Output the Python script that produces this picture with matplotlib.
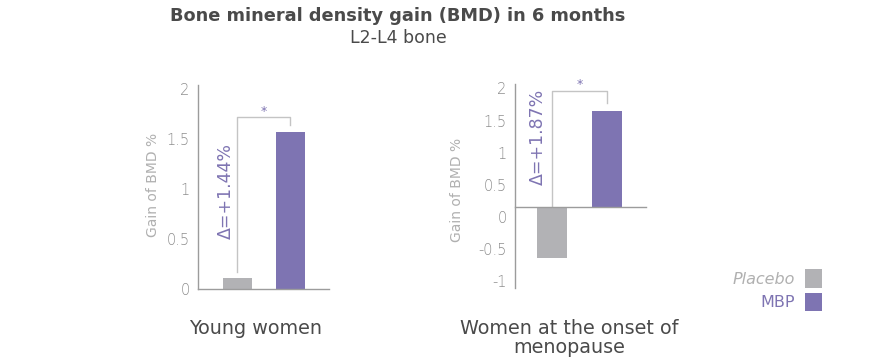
import matplotlib
matplotlib.use("Agg")
import matplotlib.pyplot as plt
from matplotlib.transforms import ScaledTranslation
from matplotlib.patches import Patch

plt.rcParams['font.family'] = ['DejaVu Sans']

# ---- data ----
groups = ["Young women", "Women at the onset of\nmenopause"]
series = ["Placebo", "MBP"]
young_values = [0.11, 1.57]
meno_values = [-0.8, 1.5]
deltas = ["Δ=+1.44%", "Δ=+1.87%"]
young_ticks = [0, 0.5, 1, 1.5, 2]
young_ticklabels = ["0", "0.5", "1", "1.5", "2"]
meno_ticks = [-1, -0.5, 0, 0.5, 1, 1.5, 2]
meno_ticklabels = ["-1", "-0.5", "0", "0.5", "1", "1.5", "2"]

GRAY = "#b2b2b5"
PURPLE = "#7e74b2"
TEXT = "#4a4a4a"
LIGHT = "#b0b0b0"
TICK = "#8e8e8e"
AXIS = "#9c9c9c"

W, H = 869, 364
fig = plt.figure(figsize=(W / 100, H / 100), dpi=100)

def px_axes(x0, x1, ytop, ybot):
    return fig.add_axes([x0 / W, (H - ybot) / H, (x1 - x0) / W, (ybot - ytop) / H])

def style(ax):
    for s in ["top", "right"]:
        ax.spines[s].set_visible(False)
    for s in ["left", "bottom"]:
        ax.spines[s].set_color(AXIS)
        ax.spines[s].set_linewidth(1.0)
    ax.tick_params(axis="y", length=0, colors=TICK, labelsize=10.5, pad=6)
    ax.set_xticks([])
    ax.set_ylabel("Gain of BMD %", color=LIGHT, fontsize=10)
    ax.set_facecolor("none")

x = [0, 1]
width = 0.55

def bracket(ax, values, base, top_off, drop, star_off):
    y_top = max(values) + top_off
    ax.plot([x[0], x[0], x[1], x[1]], [base, y_top, y_top, y_top - drop],
            color="#c4c4c4", lw=1.0, clip_on=False)
    ax.text(0.5, y_top + star_off, "*", color=PURPLE, ha="center", va="center",
            fontsize=9)

def light_ticks(ax):
    for lab in ax.get_yticklabels():
        lab.set_fontweight("light")

# ---- left panel ----
ax1 = px_axes(198, 329, 85, 289)
style(ax1)
ax1.bar(x, young_values, width=width, color=[GRAY, PURPLE])
ax1.set_ylim(0, 2.04)
ax1.set_xlim(-0.745, 1.73)
ax1.set_yticks(young_ticks, young_ticklabels)
light_ticks(ax1)
ax1.yaxis.set_label_coords(-0.29, 0.51)
bracket(ax1, young_values, young_values[0] + 0.06, 0.15, 0.08, 0.06)
ax1.text(-0.22, 0.98, deltas[0], rotation=90, color=PURPLE, fontsize=12.5,
         ha="center", va="center")

# ---- right panel ----
ax2 = px_axes(515, 646, 72, 288)
style(ax2)
ax2.spines["bottom"].set_position(("data", 0))
ax2.bar(x, meno_values, width=width, color=[GRAY, PURPLE])
ax2.set_ylim(-1.266, 2.1)
ax2.spines["left"].set_bounds(-1.266, 1.906)
ax2.set_xlim(-0.67, 1.71)
ax2.set_yticks(meno_ticks, meno_ticklabels)
light_ticks(ax2)
ax2.yaxis.set_label_coords(-0.39, 0.454)
off = ScaledTranslation(0, -10 / 100, fig.dpi_scale_trans)
for lab in ax2.get_yticklabels():
    lab.set_transform(lab.get_transform() + off)
bracket(ax2, meno_values, 0, 0.31, 0.2, 0.09)
ax2.text(-0.26, 1.09, deltas[1], rotation=90, color=PURPLE, fontsize=12.5,
         ha="center", va="center")

# ---- titles ----
fig.text(398 / W, 1 - 16 / H, "Bone mineral density gain (BMD) in 6 months",
         ha="center", va="center", fontsize=12.8, fontweight="bold", color=TEXT)
fig.text(398 / W, 1 - 38 / H, "L2-L4 bone", ha="center", va="center",
         fontsize=12.5, color=TEXT)

fig.text(256 / W, 1 - 328 / H, groups[0], ha="center", va="center",
         fontsize=13.8, color=TEXT)
fig.text(569 / W, 1 - 338 / H, groups[1], ha="center", va="center",
         fontsize=13.8, color=TEXT, linespacing=0.95)

# ---- legend ----
handles = [Patch(facecolor=GRAY, edgecolor="none"), Patch(facecolor=PURPLE, edgecolor="none")]
leg = fig.legend(handles, series, loc="upper right", bbox_to_anchor=(836 / W, 1 - 255 / H),
                 frameon=False, markerfirst=False, fontsize=11.5, handlelength=1.05,
                 handleheight=1.4, handletextpad=0.6, labelspacing=0.3)
leg.get_texts()[0].set_color(LIGHT)
leg.get_texts()[0].set_fontstyle("italic")
leg.get_texts()[1].set_color(PURPLE)

fig.savefig("out.png", dpi=100)
